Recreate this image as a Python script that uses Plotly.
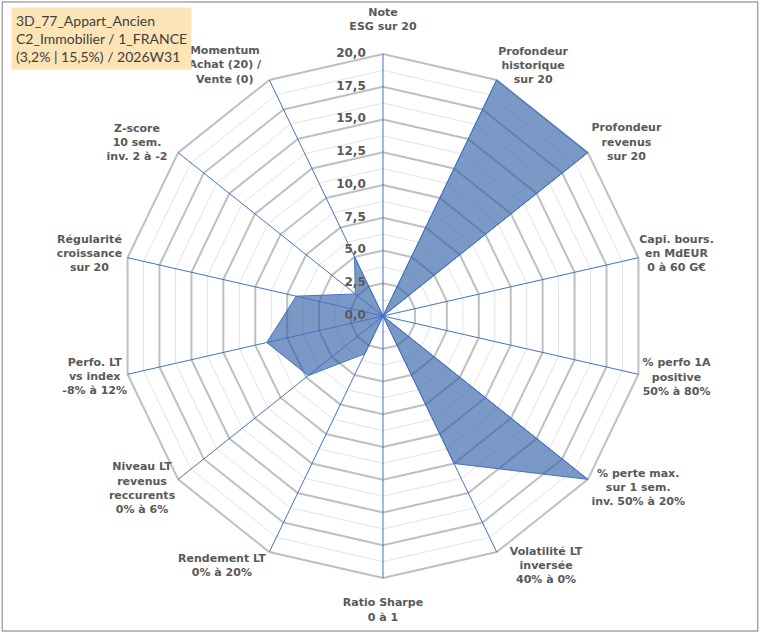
import plotly.graph_objects as go

# axes du radar (sens horaire depuis le haut)
categories = [
    "Note ESG",
    "Profondeur historique",
    "Profondeur revenus",
    "Capi. bours.",
    "% perfo 1A",
    "% perte max.",
    "Volatilité LT",
    "Ratio Sharpe",
    "Rendement LT",
    "Niveau LT",
    "Perfo. LT",
    "Régularité",
    "Z-score",
    "Momentum",
]
labels = [
    "Note<br>ESG sur 20",
    "Profondeur<br>historique<br>sur 20",
    "Profondeur<br>revenus<br>sur 20",
    "Capi. bours.<br>en MdEUR<br>0 à 60 G€",
    "% perfo 1A<br>positive<br>50% à 80%",
    "% perte max.<br>sur 1 sem.<br>inv. 50% à 20%",
    "Volatilité LT<br>inversée<br>40% à 0%",
    "Ratio Sharpe<br>0 à 1",
    "Rendement LT<br>0% à 20%",
    "Niveau LT<br>revenus<br>reccurents<br>0% à 6%",
    "Perfo. LT<br>vs index<br>-8% à 12%",
    "Régularité<br>croissance<br>sur 20",
    "Z-score<br>10 sem.<br>inv. 2 à -2",
    "Momentum<br>Achat (20) /<br>Vente (0)",
]
scores = [0, 20, 20, 0, 0, 20, 12.5, 0, 3.2, 7.3, 9.1, 6.8, 2.7, 5.0]

major_ticks = [0, 2.5, 5, 7.5, 10, 12.5, 15, 17.5, 20]
minor_rings = [1.25, 3.75, 6.25, 8.75, 11.25, 13.75, 16.25, 18.75]

title_lines = ["3D_77_Appart_Ancien", "C2_Immobilier / 1_FRANCE", "(3,2% | 15,5%) / 2026W31"]

# placement des libellés (repère polaire superposé, en degrés / unités de l'axe)
label_angle = [0, 31, 54.6, 78.1, 101.9, 124, 146.9, 180, 212.8, 234.3, 258, 281.9, 305.1, 327.7]
label_r = [22.55, 22.25, 22.8, 22.9, 22.9, 23.5, 22.8, 22.5, 22.7, 22.65, 22.5, 22.9, 22.95, 22.6]
r_range = [0, 24]  # place pour les libellés autour de la grille 0-20

closed = categories + categories[:1]
fig = go.Figure()

# cercles secondaires (gris clair)
for v in minor_rings:
    fig.add_trace(go.Scatterpolar(
        r=[v] * len(closed), theta=closed, mode="lines",
        line=dict(color="#E3E3E3", width=1),
        hoverinfo="skip", showlegend=False,
    ))

# série
fig.add_trace(go.Scatterpolar(
    r=scores + scores[:1], theta=closed, mode="lines",
    fill="toself", fillcolor="rgba(40,90,165,0.62)",
    line=dict(color="#4472C4", width=1),
    showlegend=False,
))

# rayons bleus de 0 à 20
for c in categories:
    fig.add_trace(go.Scatterpolar(
        r=[0, major_ticks[-1]], theta=[c, c], mode="lines",
        line=dict(color="#4472C4", width=1),
        hoverinfo="skip", showlegend=False,
    ))

# graduations radiales (repère superposé, au-dessus de la série)
fig.add_trace(go.Scatterpolar(
    r=major_ticks,
    theta=[label_angle[0]] * len(major_ticks),
    mode="markers+text",
    marker=dict(size=26, color="rgba(0,0,0,0)"),
    text=[f"{v:.1f}".replace(".", ",") for v in major_ticks],
    textposition="middle left",
    textfont=dict(family="DejaVu Sans", size=12, color="#595959", weight="bold"),
    cliponaxis=False, hoverinfo="skip", showlegend=False,
    subplot="polar2",
))

# libellés des axes, centrés
fig.add_trace(go.Scatterpolar(
    r=label_r, theta=label_angle, mode="text", text=labels,
    textposition="middle center",
    textfont=dict(family="DejaVu Sans", size=11, color="#595959", weight="bold"),
    cliponaxis=False, hoverinfo="skip", showlegend=False,
    subplot="polar2",
))

W, H = 760, 633
cx, cy, R = 383, 316, 262 * r_range[1] / 20
dom = dict(x=[(cx - R) / W, (cx + R) / W], y=[(H - cy - R) / H, (H - cy + R) / H])

hidden_angular = dict(direction="clockwise", rotation=90, showgrid=False,
                      showline=False, ticks="", showticklabels=False)

fig.update_layout(
    width=W,
    height=H,
    margin=dict(l=0, r=0, t=0, b=0),
    paper_bgcolor="white",
    showlegend=False,
    polar=dict(
        domain=dom,
        bgcolor="rgba(0,0,0,0)",
        gridshape="linear",
        angularaxis=hidden_angular,
        radialaxis=dict(
            range=r_range,
            tickvals=major_ticks,
            showticklabels=False,
            showline=False,
            ticks="",
            gridcolor="#BFBFBF",
            gridwidth=2,
        ),
    ),
    polar2=dict(
        domain=dom,
        bgcolor="rgba(0,0,0,0)",
        angularaxis=dict(hidden_angular, type="linear", thetaunit="degrees"),
        radialaxis=dict(range=r_range, visible=False),
    ),
)

# cartouche titre
fig.add_annotation(
    x=11 / W, y=1 - 7 / H, xref="paper", yref="paper",
    xanchor="left", yanchor="top", align="left",
    text="<br>".join(title_lines),
    showarrow=False,
    bgcolor="#FCE4B6",
    borderpad=4,
    font=dict(family="Lato", size=14, color="#404040"),
)

# cadre
fig.add_shape(type="rect", xref="paper", yref="paper",
              x0=0.003, y0=0.003, x1=0.997, y1=0.997,
              line=dict(color="#A6A6A6", width=1.5))

fig.write_html(
    "out.html",
    config={"displayModeBar": False},
    post_script="document.body.style.margin='0';document.body.style.overflow='hidden';",
)
